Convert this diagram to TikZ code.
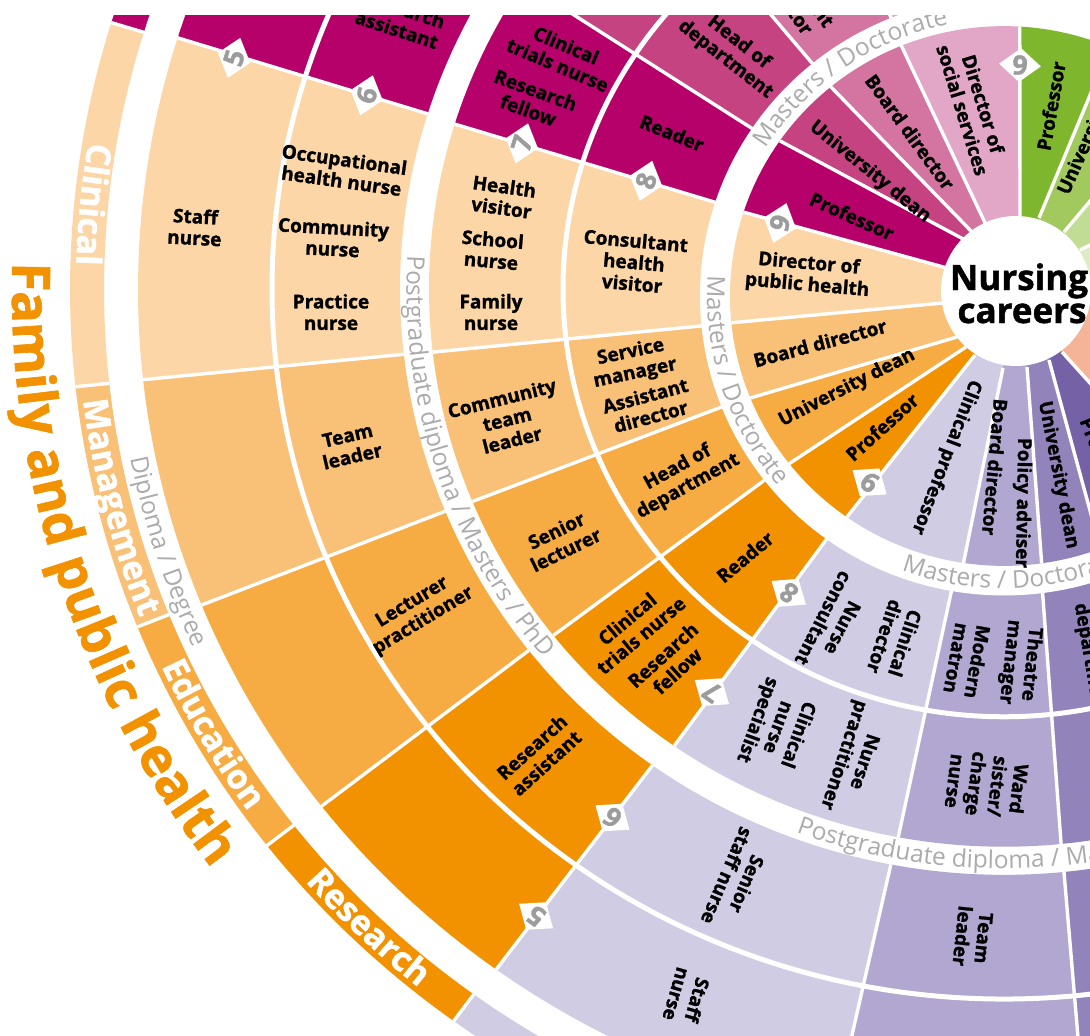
\documentclass[tikz,border=0pt]{standalone}
\usepackage{fontspec}
\setmainfont{Open Sans}[BoldFeatures={FakeBold=1.3}]
\usetikzlibrary{decorations.text,shapes.geometric}
\definecolor{mC}{HTML}{E2A6C7}
\definecolor{mM}{HTML}{D475A1}
\definecolor{mE}{HTML}{C44380}
\definecolor{mR}{HTML}{B6006A}
\definecolor{oC}{HTML}{FCD6A6}
\definecolor{oM}{HTML}{F9C077}
\definecolor{oE}{HTML}{F6AB43}
\definecolor{oR}{HTML}{F39200}
\definecolor{pC}{HTML}{D0CCE4}
\definecolor{pM}{HTML}{B1A7D0}
\definecolor{pE}{HTML}{9284BA}
\definecolor{pR}{HTML}{7562A6}
\definecolor{gC}{HTML}{DDECC5}
\definecolor{gM}{HTML}{C1DC94}
\definecolor{gE}{HTML}{A2C95E}
\definecolor{gR}{HTML}{7EB72E}
\definecolor{sal}{HTML}{F5B497}
\definecolor{bandgray}{HTML}{ABABAB}
\definecolor{diggray}{HTML}{9C9C9C}
\newcommand\mylab{\fontsize{19}{21.5}\selectfont\bfseries}
\newcommand\myband{\fontsize{24.5}{26}\selectfont}
\newcommand\myring{\fontsize{34}{36}\selectfont\bfseries}
\newcommand\myfam{\fontsize{53}{56}\selectfont\bfseries}
\newcommand\mydig{\fontsize{27}{28}\selectfont\bfseries}
\newcommand\mycore{\fontsize{35}{37}\selectfont\bfseries}
% ring-1 sector: colour, inner coord 1, outer angle 1, inner coord 2, outer angle 2
\newcommand\secA[5]{\fill[#1] (#2) -- (#3:274) arc[start angle=#3,end angle=#5,radius=274] -- (#4) -- (cc) -- cycle;}
% sector: colour, a1 in, a1 out, a2 in, a2 out, r in, r out
\newcommand\secB[7]{\fill[#1] (#2:#6) -- (#3:#7) arc[start angle=#3,end angle=#5,radius=#7] -- (#4:#6) arc[start angle=#4,end angle=#2,radius=#6] -- cycle;}
\newcommand\sepB[4]{\draw[sepl] (#1:#3) -- (#2:#4);}
\newcommand\lvlmark[4]{\node[dia,rotate=#1-90] (#4) at (#1:#2) {}; \node[digs,rotate=#1-90] (#4t) at (#4.center) {#3};}
\newcommand\arctext[6]{\path[decorate,decoration={text along path,text={|#4|#5},text align=center,text color=#6}] (#2:#1) arc[start angle=#2,end angle=#3,radius=#1];}
\begin{document}
\begin{tikzpicture}[x=1pt,y=1pt,
  lab/.style={font=\mylab,align=center,inner sep=0pt,text=black},
  sepl/.style={white,line width=3.4pt},
  dia/.style={diamond,fill=white,inner sep=0pt,minimum width=42pt,minimum height=34pt},
  digs/.style={font=\mydig,text=diggray,inner sep=0pt}]
\useasboundingbox (0,0) rectangle (1090,-1036);
\fill[white] (0,0) rectangle (1090,-1036);
\begin{scope}
\clip (0,-15) rectangle (1090,-1036);
\coordinate (cc) at (1016,-291);
\coordinate (gs) at (1094,-282);
\coordinate (gcm) at (1080,-250);
\coordinate (gme) at (1064,-232);
\coordinate (ger) at (1039,-218);
\coordinate (gm) at (1020,-218);
\coordinate (mcm) at (987,-227);
\coordinate (mme) at (973,-233);
\coordinate (mer) at (965,-240);
\coordinate (mo) at (947,-268);
\coordinate (ocm) at (943,-303);
\coordinate (ome) at (957,-337);
\coordinate (oer) at (966,-347);
\coordinate (op) at (975,-355);
\coordinate (pcm) at (1003,-368);
\coordinate (pme) at (1027,-367);
\coordinate (per) at (1049,-360);
\coordinate (ps) at (1062,-352);
% ================= outer rings =================
\begin{scope}[shift={(1004,-289)},yscale=0.97]
% ---------- ring 2 ----------
\secB{sal}{310}{310}{370}{370}{280}{575}
\secB{gC}{10}{10}{28}{28}{280}{575}
\secB{gM}{28}{28}{47}{47}{280}{575}
\secB{gE}{47}{47}{67}{67}{280}{575}
\secB{gR}{67}{67}{86.6}{86.6}{280}{575}
\secB{mC}{86.6}{86.6}{112}{112}{280}{575}
\secB{mM}{112}{112}{129.5}{129.5}{280}{575}
\secB{mE}{129.5}{129.5}{146.7}{146.7}{280}{575}
\secB{mR}{146.7}{146.7}{162.8}{162.8}{280}{575}
\secB{oC}{162.8}{162.8}{187.3}{186.5}{280}{575}
\secB{oM}{187.3}{186.5}{203.5}{202.4}{280}{575}
\secB{oE}{203.5}{202.4}{219.7}{218.4}{280}{575}
\secB{oR}{219.7}{218.4}{235.6}{235.0}{280}{575}
\secB{pC}{235.6}{235.0}{260.7}{259.4}{280}{575}
\secB{pM}{260.7}{259.4}{277.4}{275.7}{280}{575}
\secB{pE}{277.4}{275.7}{293}{292}{280}{575}
\secB{pR}{293}{292}{310}{310}{280}{575}
% ---------- ring 3 ----------
\secB{sal}{310}{310}{370}{370}{604}{866}
\secB{gC}{10}{10}{28}{28}{604}{866}
\secB{gM}{28}{28}{47}{47}{604}{866}
\secB{gE}{47}{47}{67}{67}{604}{866}
\secB{gR}{67}{67}{86.6}{86.6}{604}{866}
\secB{mC}{86.6}{86.6}{112}{112}{604}{866}
\secB{mM}{112}{112}{129.5}{129.5}{604}{866}
\secB{mE}{129.5}{129.5}{146.7}{146.7}{604}{866}
\secB{mR}{146.7}{146.7}{162.6}{162.6}{604}{866}
\secB{oC}{162.6}{162.6}{186.4}{186.2}{604}{866}
\secB{oM}{186.4}{186.2}{202.3}{202.1}{604}{866}
\secB{oE}{202.3}{202.1}{218.1}{218.0}{604}{866}
\secB{oR}{218.1}{218.0}{234.4}{234.1}{604}{866}
\secB{pC}{234.4}{234.1}{259.2}{258.7}{604}{866}
\secB{pM}{259.2}{258.7}{275.7}{275.4}{604}{866}
\secB{pE}{275.7}{275.4}{292}{292}{604}{866}
\secB{pR}{292}{292}{310}{310}{604}{866}
% ---------- label ring ----------
\secB{sal}{310}{310}{370}{370}{900}{934}
\secB{gC}{10}{10}{28}{28}{900}{934}
\secB{gM}{28}{28}{47}{47}{900}{934}
\secB{gE}{47}{47}{67}{67}{900}{934}
\secB{gR}{67}{67}{86.6}{86.6}{900}{934}
\secB{mC}{86.6}{86.6}{112}{112}{900}{934}
\secB{mM}{112}{112}{129.5}{129.5}{900}{934}
\secB{mE}{129.5}{129.5}{146.7}{146.7}{900}{934}
\secB{mR}{146.7}{146.7}{162.9}{162.9}{900}{934}
\secB{oC}{162.9}{162.9}{186.2}{186.2}{900}{934}
\secB{oM}{186.2}{186.2}{201.9}{201.9}{900}{934}
\secB{oE}{201.9}{201.9}{217.9}{217.9}{900}{934}
\secB{oR}{217.9}{217.9}{233.9}{233.9}{900}{934}
\secB{pC}{233.9}{233.9}{258.5}{258.5}{900}{934}
\secB{pM}{258.5}{258.5}{275}{275}{900}{934}
\secB{pE}{275}{275}{292}{292}{900}{934}
\secB{pR}{292}{292}{310}{310}{900}{934}
% ---------- separators ----------
\foreach \a in {10,28,47,67,86.6,112,129.5,146.7,162.8,310} {\sepB{\a}{\a}{280}{575}}
\sepB{187.3}{186.5}{280}{575}
\sepB{203.5}{202.4}{280}{575}
\sepB{219.7}{218.4}{280}{575}
\sepB{235.6}{235.0}{280}{575}
\sepB{260.7}{259.4}{280}{575}
\sepB{277.4}{275.7}{280}{575}
\sepB{293}{292}{280}{575}
\foreach \a in {10,28,47,67,86.6,112,129.5,146.7,162.6,292,310} {\sepB{\a}{\a}{604}{866}}
\sepB{186.4}{186.2}{604}{866}
\sepB{202.3}{202.1}{604}{866}
\sepB{218.1}{218.0}{604}{866}
\sepB{234.4}{234.1}{604}{866}
\sepB{259.2}{258.7}{604}{866}
\sepB{275.7}{275.4}{604}{866}
\foreach \a in {10,28,47,67,86.6,112,129.5,146.7,162.9,186.2,201.9,217.9,233.9,258.5,275,292,310} {\sepB{\a}{\a}{900}{934}}
\draw[white,line width=5pt] (0,0) circle[radius=441];
\draw[white,line width=5pt] (0,0) circle[radius=732];
% ---------- level marks ----------
\lvlmark{162.7}{375}{8}{dA8}
\lvlmark{162.7}{505}{7}{dA7}
\lvlmark{162.6}{668}{6}{dA6}
\lvlmark{162.8}{806}{5}{dA5}
\lvlmark{235.5}{380}{8}{dB8}
\lvlmark{234.9}{508}{7}{dB7}
\lvlmark{234.3}{671}{6}{dB6}
\lvlmark{234.1}{798}{5}{dB5}
% ---------- band and ring texts ----------
\arctext{597.5}{168}{228.1}{\myband}{Postgraduate diploma / Masters / PhD}{bandgray}
\arctext{597.5}{240.5}{300.6}{\myband}{Postgraduate diploma / Masters / PhD}{bandgray}
\arctext{891}{184}{211.8}{\myband}{Diploma / Degree}{bandgray}
\arctext{928}{164}{185.1}{\myring}{Clinical}{white}
\arctext{928}{183}{205.5}{\myring}{Management}{white}
\arctext{928}{199}{221.2}{\myring}{Education}{white}
\arctext{928}{215}{237}{\myring}{Research}{white}
\path[decorate,decoration={text along path,text={|\myfam|Family and public health},text align=left,text color=oR}]
  (178.4:992) arc[start angle=178.4,end angle=235,radius=992];
\end{scope}
% ================= inner ring and its band =================
\begin{scope}[shift={(1004,-296)},yscale=0.985]
\fill[white] (0,0) circle[radius=304];
\secA{sal}{ps}{312.8}{gs}{370}
\secA{gC}{gs}{10}{gcm}{28}
\secA{gM}{gcm}{28}{gme}{49.3}
\secA{gE}{gme}{49.3}{ger}{67.25}
\secA{gR}{ger}{67.25}{gm}{86.7}
\secA{mC}{gm}{86.7}{mcm}{112.0}
\secA{mM}{mcm}{112.0}{mme}{129.2}
\secA{mE}{mme}{129.2}{mer}{144.9}
\secA{mR}{mer}{144.9}{mo}{161.9}
\secA{oC}{mo}{161.9}{ocm}{185.7}
\secA{oM}{ocm}{185.7}{ome}{202.2}
\secA{oE}{ome}{202.2}{oer}{218.4}
\secA{oR}{oer}{218.4}{op}{235.0}
\secA{pC}{op}{235.0}{pcm}{261.5}
\secA{pM}{pcm}{261.5}{pme}{277.9}
\secA{pE}{pme}{277.9}{per}{290.6}
\secA{pR}{per}{290.6}{ps}{312.8}
\draw[sepl] (gs)--(10:274) (gcm)--(28:274) (gme)--(49.3:274) (ger)--(67.25:274)
  (gm)--(86.7:274) (mcm)--(112.0:274) (mme)--(129.2:274) (mer)--(144.9:274)
  (mo)--(161.9:274) (ocm)--(185.7:274) (ome)--(202.2:274) (oer)--(218.4:274)
  (op)--(235.0:274) (pcm)--(261.5:274) (pme)--(277.9:274) (per)--(290.6:274) (ps)--(312.8:274);
\lvlmark{161.7}{236}{9}{dA9}
\lvlmark{234.6}{232}{9}{dB9}
\lvlmark{86.1}{235}{9}{dC9}
\arctext{297}{168.2}{228.2}{\myband}{Masters / Doctorate}{bandgray}
\arctext{281}{154.7}{94.7}{\myband}{Masters / Doctorate}{bandgray}
\arctext{297}{241.7}{301.7}{\myband}{Masters / Doctorate}{bandgray}
\end{scope}
% ---------- orange family ----------
\node[lab,rotate=-5] (o9c) at (808,-275) {Director of\\public health};
\node[lab,rotate=15] (o9m) at (820,-343) {Board director};
\node[lab,rotate=27] (o9e) at (847,-388) {University dean};
\node[lab,rotate=42] (o9r) at (882,-427) {Professor};
\node[lab,rotate=-5] (o8c) at (634,-262) {Consultant\\health\\visitor};
\node[lab,rotate=12] (o8m1) at (633,-363) {Service\\manager};
\node[lab,rotate=15] (o8m2) at (648,-406) {Assistant\\director};
\node[lab,rotate=29] (o8e) at (683,-477) {Head of\\department};
\node[lab,rotate=40] (o8r) at (745,-557) {Reader};
\node[lab,rotate=-8] (o7c1) at (503,-197) {Health\\visitor};
\node[lab,rotate=-5] (o7c2) at (492,-250) {School\\nurse};
\node[lab] (o7c3) at (491,-312) {Family\\nurse};
\node[lab,rotate=14] (o7m) at (507,-419) {Community\\team\\leader};
\node[lab,rotate=26] (o7e) at (561,-540) {Senior\\lecturer};
\node[lab,rotate=40] (o7r1) at (634,-627) {Clinical\\trials nurse};
\node[lab,rotate=42] (o7r2) at (670,-663) {Research\\fellow};
\node[lab,rotate=-8] (o6c1) at (343,-170) {Occupational\\health nurse};
\node[lab,rotate=-3] (o6c2) at (333,-238) {Community\\nurse};
\node[lab] (o6c3) at (331,-312) {Practice\\nurse};
\node[lab,rotate=13] (o6m) at (350,-446) {Team\\leader};
\node[lab,rotate=31] (o6e) at (418,-612) {Lecturer\\practitioner};
\node[lab,rotate=42] (o6r) at (539,-755) {Research\\assistant};
\node[lab,rotate=-3] (o5c) at (195,-227) {Staff\\nurse};
% ---------- magenta family ----------
\node[lab,rotate=-24] (m9r) at (852,-216) {Professor};
\node[lab,rotate=-39] (m9e) at (870,-172) {University dean};
\node[lab,rotate=-54] (m9m) at (910,-132) {Board director};
\node[lab,rotate=-73] (m9c) at (973,-107) {Director of\\social services};
\node[lab,rotate=-22] (m8r) at (672,-133) {Reader};
\node[lab,rotate=-38] (m8e) at (732,-51) {Head of\\department};
\node[lab,rotate=-55] (m8m) at (796,5) {Assistant\\director};
\node[lab,rotate=-23] (m7r1) at (562,-55) {Clinical\\trials nurse};
\node[lab,rotate=-20] (m7r2) at (532,-100) {Research\\fellow};
\node[lab,rotate=-18] (m6r) at (400,-19) {Research\\assistant};
% ---------- green family ----------
\node[lab,rotate=80] (g9r) at (1051,-106) {Professor};
\node[lab,rotate=66,anchor=west] (g9e) at (1064,-194) {University dean};
% ---------- purple family ----------
\node[lab,rotate=-111] (p9c) at (946,-457) {Clinical professor};
\node[lab,rotate=-95] (p9m1) at (995,-467) {Board director};
\node[lab,rotate=-91] (p9m2) at (1022,-503) {Policy adviser};
\node[lab,rotate=-79] (p9e) at (1058,-475) {University dean};
\node[lab,rotate=-68,anchor=west] (p9r) at (1086,-418) {Professor};
\node[lab,rotate=-117] (p8c1) at (833,-623) {Nurse\\consultant};
\node[lab,rotate=-108] (p8c2) at (895,-640) {Clinical\\director};
\node[lab,rotate=-100] (p8m1) at (967,-660) {Modern\\matron};
\node[lab,rotate=-96] (p8m2) at (1020,-663) {Theatre\\manager};
\node[lab,rotate=-80] (p8e) at (1100,-658) {Head of\\department};
\node[lab,rotate=-110] (p7c1) at (777,-727) {Clinical\\nurse\\specialist};
\node[lab,rotate=-108] (p7c2) at (853,-758) {Nurse\\practitioner};
\node[lab,rotate=-97] (p7m) at (987,-785) {Ward\\sister/\\charge\\nurse};
\node[lab,rotate=-113] (p6c) at (737,-880) {Senior\\staff nurse};
\node[lab,rotate=-96] (p6m) at (973,-937) {Team\\leader};
\node[lab,rotate=-106] (p5c) at (687,-997) {Staff\\nurse};
% ---------- centre ----------
\fill[white] (cc) circle[radius=75];
\node[font=\mycore,anchor=base,inner sep=0pt] (nur) at (1019,-290) {Nursing};
\node[font=\mycore,anchor=base,inner sep=0pt] (car) at (1022,-323) {careers};
\end{scope}
\end{tikzpicture}
\end{document}
